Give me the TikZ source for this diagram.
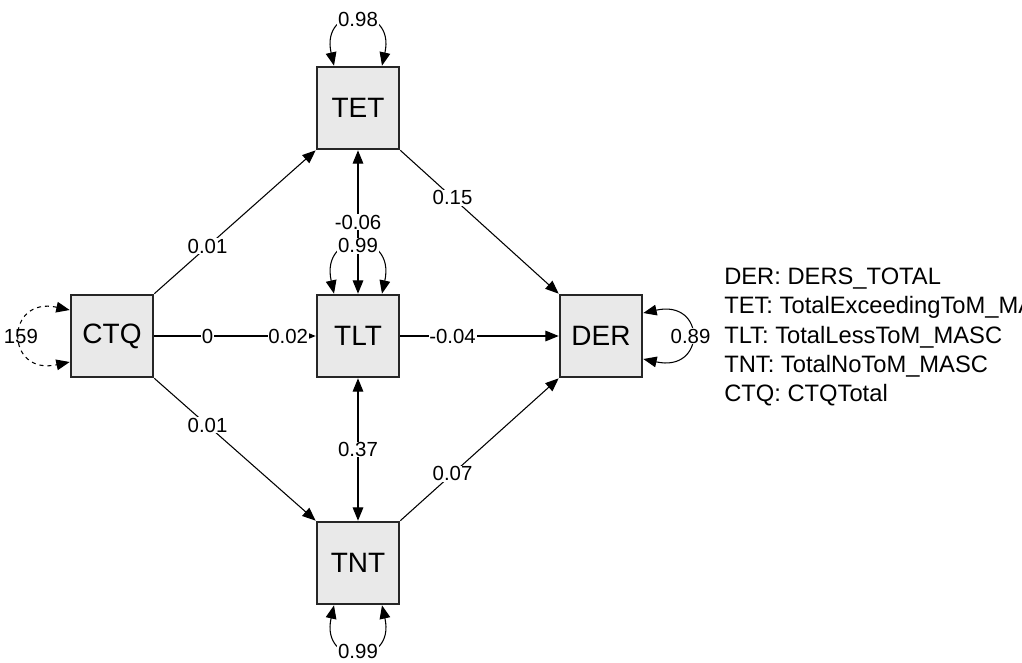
\documentclass[tikz,border=0pt]{standalone}
\usepackage{fontspec}
\setmainfont{Liberation Sans}
\usetikzlibrary{arrows.meta, calc}

\begin{document}
\begin{tikzpicture}[x=0.75pt, y=-0.75pt,
    var/.style={draw=black!85, line width=1.5pt, fill=gray!17, minimum size=62pt,
                inner sep=0pt, font=\fontsize{21}{24}\selectfont},
    arr/.style={-{Triangle[length=10pt, width=8pt]}, line width=0.8pt},
    dbl/.style={{Triangle[length=10pt, width=8pt]}-{Triangle[length=10pt, width=8pt]}, line width=0.8pt},
    lbl/.style={fill=white, inner sep=0.5pt, font=\fontsize{15.3}{17}\selectfont},
    key/.style={align=left, inner sep=0pt, font=\fontsize{17.8}{22.1}\selectfont}
]
\useasboundingbox (0,0) rectangle (1022,662);
\clip (0,0) rectangle (1022,662);

\node[var] (CTQ) at (112,336) {CTQ};
\node[var] (TET) at (358,108) {TET};
\node[var] (TLT) at (358,336) {TLT};
\node[var] (TNT) at (358,563) {TNT};
\node[var] (DER) at (601,336) {DER};

\node[key, anchor=west] (legend) at (724,337) {DER: DERS\_TOTAL\\TET: TotalExceedingToM\_MASC\\TLT: TotalLessToM\_MASC\\TNT: TotalNoToM\_MASC\\CTQ: CTQTotal};

\draw[arr] (CTQ.north east) -- node[lbl, pos=0.33] {0.01} (TET.south west);
\draw[arr] (CTQ.south east) -- node[lbl, pos=0.33] {0.01} (TNT.north west);
\draw[arr] (CTQ) -- node[lbl, pos=0.33] {0} node[lbl, pos=0.83] {0.02} (TLT);
\draw[arr] (TET.south east) -- node[lbl, pos=0.33] {0.15} (DER.north west);
\draw[arr] (TLT) -- node[lbl, pos=0.33] {-0.04} (DER);
\draw[arr] (TNT.north east) -- node[lbl, pos=0.33] {0.07} (DER.south west);
\draw[dbl] (TET) -- node[lbl, pos=0.5] {-0.06} (TLT);
\draw[dbl] (TLT) -- node[lbl, pos=0.5] {0.37} (TNT);

\draw[dbl] ($(TET.north)+(-24,0)$) .. controls +(-14,-62) and +(14,-62) .. node[lbl] {0.98} ($(TET.north)+(24,0)$);
\draw[dbl] ($(TLT.north)+(-24,0)$) .. controls +(-14,-64) and +(14,-64) .. node[lbl] {0.99} ($(TLT.north)+(24,0)$);
\draw[dbl] ($(TNT.south)+(-24,0)$) .. controls +(-14,62) and +(14,62) .. node[lbl] {0.99} ($(TNT.south)+(24,0)$);
\draw[dbl] ($(DER.east)+(0,-23)$) .. controls +(63,-14) and +(63,14) .. node[lbl] {0.89} ($(DER.east)+(0,23)$);
\draw[dbl, dashed] ($(CTQ.west)+(0,-26)$) .. controls +(-65,-14) and +(-65,14) .. node[font=\fontsize{15.3}{17}\selectfont, inner sep=0pt] {159} ($(CTQ.west)+(0,26)$);
\end{tikzpicture}
\end{document}
